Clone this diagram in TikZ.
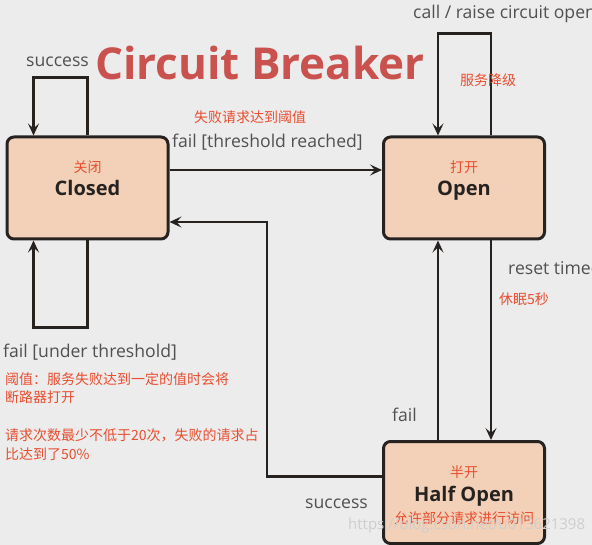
\documentclass[tikz,border=0pt]{standalone}
\usepackage{fontspec}
\setmainfont{Open Sans}
\newfontfamily\zh{Noto Sans CJK SC}
\usetikzlibrary{arrows.meta, positioning}
\definecolor{PaperGray}{RGB}{236,236,236}
\definecolor{StateFill}{RGB}{243,209,184}
\definecolor{Ink}{RGB}{38,34,32}
\definecolor{TitleRed}{RGB}{202,82,78}
\definecolor{NoteRed}{RGB}{232,78,48}
\definecolor{LabelGray}{RGB}{80,80,80}

\begin{document}
\begin{tikzpicture}[
    x=1pt, y=-1pt,
    every node/.style={font=\fontsize{17.6}{20}\selectfont, text=LabelGray, inner sep=0pt},
    state/.style={draw=Ink, fill=StateFill, line width=3pt, rounded corners=7pt,
                minimum width=161pt, minimum height=102pt},
    statezh/.style={font=\zh\fontsize{14}{16}\selectfont, text=NoteRed, anchor=base},
    statename/.style={font=\bfseries\fontsize{20}{24}\selectfont, text=Ink, anchor=base},
    note/.style={font=\zh\fontsize{14}{18.5}\selectfont, text=NoteRed},
    flow/.style={draw=Ink, line width=2.5pt, -{Stealth[length=12pt,width=11pt,inset=5pt]}}
]
\fill[PaperGray] (0,0) rectangle (592,545);
\useasboundingbox (0,0) rectangle (592,545);

\node[font=\bfseries\fontsize{44}{50}\selectfont, text=TitleRed, anchor=base west] (title) at (95,80) {Circuit Breaker};

\node[state] (closed) at (87.5,188) {};
\node[state] (open) at (464,188) {};
\node[state] (halfopen) at (464,492.5) {};

\node[statezh] (closedzh) at ([yshift=15pt]closed.center) {关闭};
\node[statename] (closedname) at ([yshift=-8pt]closed.center) {Closed};
\node[statezh] (openzh) at ([yshift=15pt]open.center) {打开};
\node[statename] (openname) at ([yshift=-8pt]open.center) {Open};
\node[statezh] (halfzh) at ([yshift=15pt]halfopen.center) {半开};
\node[statename] (halfname) at ([yshift=-9pt]halfopen.center) {Half Open};
\node[statezh] (halfnote) at ([yshift=-31pt]halfopen.center) {允许部分请求进行访问};

% transitions
\draw[flow] (closed.north) -- ++(0,-58) -| ([xshift=-54pt]closed.north);
\draw[flow] (closed.south) -- ++(0,87) -| ([xshift=-54pt]closed.south);
\draw[flow] ([yshift=18pt]closed.east) -- ([yshift=18pt]open.west);
\draw[flow] ([xshift=27pt]open.north) -- ++(0,-102) -| ([xshift=-26pt]open.north);
\draw[flow] ([xshift=27pt]open.south) -- ([xshift=27pt]halfopen.north);
\draw[flow] ([xshift=-26pt]halfopen.north) -- ([xshift=-26pt]open.south);
\coordinate (successbend) at (267,222);
\draw[flow] ([yshift=16pt]halfopen.west) -| (successbend) -- (successbend -| closed.east);

% labels
\node[anchor=base west] (closedsuccess) at (26,67) {success};
\node[anchor=base west] (underlabel) at (3,358) {fail [under threshold]};
\node[anchor=base west] (thresholdlabel) at (172,148) {fail [threshold reached]};
\node[note] (thresholdzh) at (250,117) {失败请求达到阈值};
\node[anchor=base west] (calllabel) at (413,19) {call / raise circuit open};
\node[note] (fallbackzh) at (488,80) {服务降级};
\node[anchor=base west] (resetlabel) at (508,275) {reset timeout};
\node[note, anchor=west] (sleepzh) at (499,299) {休眠5秒};
\node[anchor=base west] (halffail) at (392,421) {fail};
\node[anchor=base west] (halfsuccess) at (305,508) {success};

\node[note, anchor=north west, align=left] (thresholdnote) at (5,372)
    {阈值：服务失败达到一定的值时会将\\断路器打开\\[19.5pt]请求次数最少不低于20次，失败的请求占\\比达到了50\%};

\node[anchor=west, font=\fontsize{15}{18}\selectfont, text=white!72!LabelGray] (csdnmark) at (348,526) {https://blog.csdn.net/u013621398};
\end{tikzpicture}
\end{document}
